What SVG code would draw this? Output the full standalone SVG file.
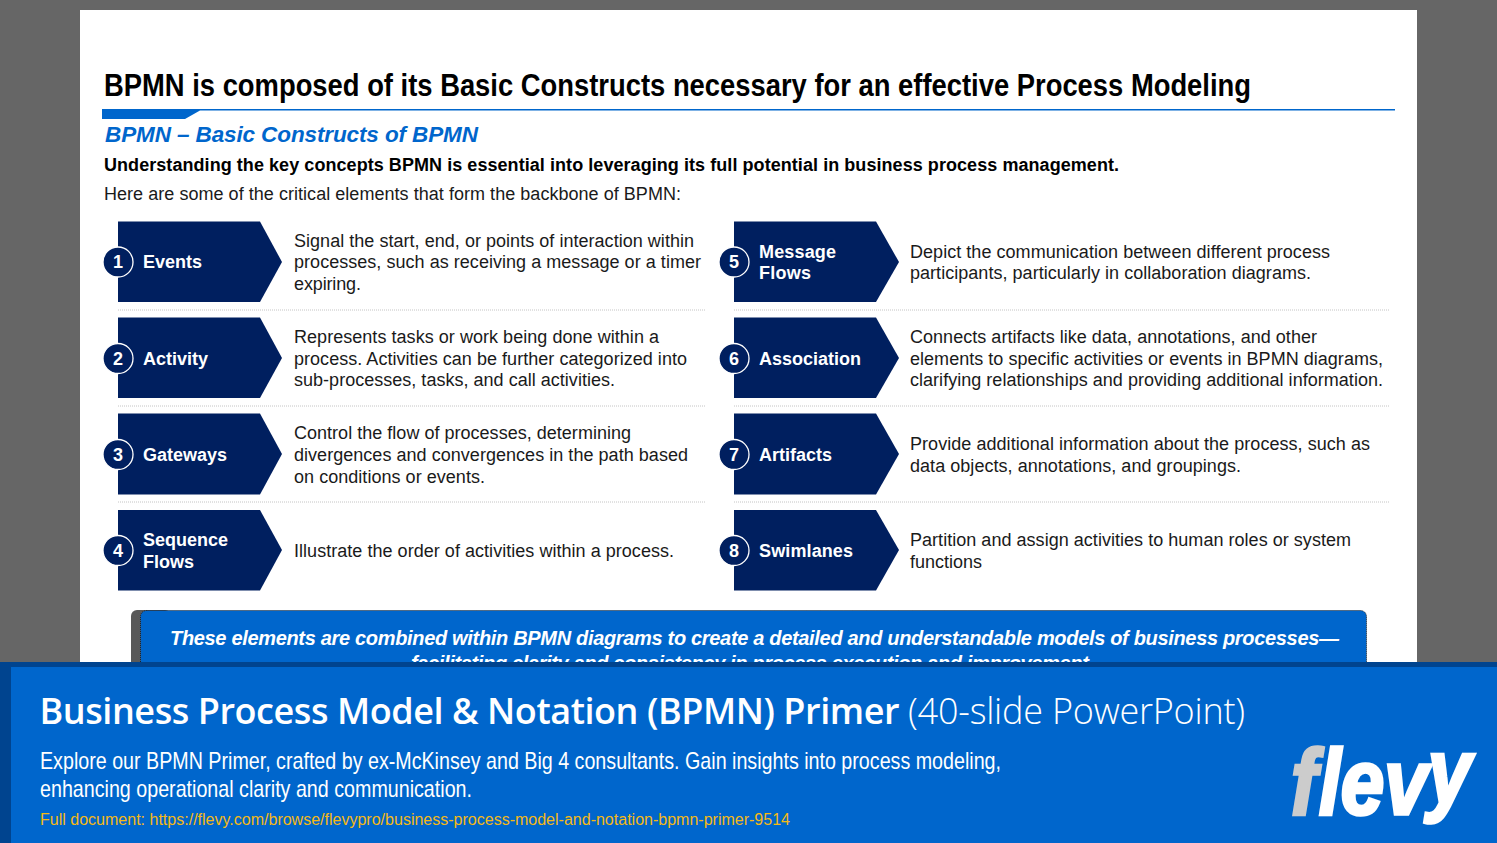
<svg xmlns="http://www.w3.org/2000/svg" width="1497" height="843" viewBox="0 0 1497 843">
<style>
text{font-family:"Liberation Sans",Arial,sans-serif}
.chev{fill:#001f5f}
.dot{fill:#001f5f;stroke:#fff;stroke-width:1.3}
.num{fill:#fff;font-size:18px;font-weight:700;text-anchor:middle}
.lab{fill:#fff;font-size:18px;font-weight:700}
.body{fill:#1a1a1a;font-size:18px}
.sep{stroke:#c4c4c4;stroke-width:1;stroke-dasharray:1 1;fill:none}
.call{fill:#fff;font-size:20px;font-weight:700;font-style:italic}
</style>
<rect width="1497" height="843" fill="#666"/>
<rect x="80" y="10" width="1337" height="660" fill="#fff"/>
<g id="header">
<text x="104" y="96" font-size="32" font-weight="700" fill="#000" textLength="1147" lengthAdjust="spacingAndGlyphs">BPMN is composed of its Basic Constructs necessary for an effective Process Modeling</text>
<path d="M102 109H1395V110.500H200L185 119H102Z" fill="#0066cc"/>
<text x="105" y="141.500" font-size="22.500" font-weight="700" font-style="italic" fill="#0066cc" textLength="373">BPMN – Basic Constructs of BPMN</text>
<text x="104" y="171" font-size="18" font-weight="700" fill="#000" textLength="1015">Understanding the key concepts BPMN is essential into leveraging its full potential in business process management.</text>
<text x="104" y="200" font-size="18" fill="#1a1a1a" textLength="577">Here are some of the critical elements that form the backbone of BPMN:</text>
</g>
<g id="separators">
<path class="sep" d="M118 310H706M118 406H706M118 502H706M734 310H1389M734 406H1389M734 502H1389"/>
</g>
<g id="n1"><path class="chev" d="M118 221.500H260L282 262L260 302H118Z"/><circle class="dot" cx="118" cy="262" r="15"/><text class="num" x="118" y="268">1</text><text class="lab" x="143" y="268" textLength="59">Events</text>
<text class="body"><tspan x="294" y="247" textLength="400">Signal the start, end, or points of interaction within</tspan><tspan x="294" y="268" textLength="407">processes, such as receiving a message or a timer</tspan><tspan x="294" y="290" textLength="67">expiring.</tspan></text></g>
<g id="n2"><path class="chev" d="M118 317.500H260L282 358L260 398H118Z"/><circle class="dot" cx="118" cy="358.500" r="15"/><text class="num" x="118" y="365">2</text><text class="lab" x="143" y="365" textLength="65">Activity</text>
<text class="body"><tspan x="294" y="343" textLength="365">Represents tasks or work being done within a</tspan><tspan x="294" y="365" textLength="393">process. Activities can be further categorized into</tspan><tspan x="294" y="386" textLength="321">sub-processes, tasks, and call activities.</tspan></text></g>
<g id="n3"><path class="chev" d="M118 413.500H260L282 454L260 494.500H118Z"/><circle class="dot" cx="118" cy="454.500" r="15"/><text class="num" x="118" y="461">3</text><text class="lab" x="143" y="461" textLength="84">Gateways</text>
<text class="body"><tspan x="294" y="439" textLength="337">Control the flow of processes, determining</tspan><tspan x="294" y="461" textLength="394">divergences and convergences in the path based</tspan><tspan x="294" y="483" textLength="191">on conditions or events.</tspan></text></g>
<g id="n4"><path class="chev" d="M118 510H260L282 550L260 590.500H118Z"/><circle class="dot" cx="118" cy="550.500" r="15"/><text class="num" x="118" y="557">4</text><text class="lab"><tspan x="143" y="546" textLength="85">Sequence</tspan><tspan x="143" y="568" textLength="51">Flows</tspan></text>
<text class="body" x="294" y="557" textLength="380">Illustrate the order of activities within a process.</text></g>
<g id="n5"><path class="chev" d="M734 221.500H876L899 262L876 302H734Z"/><circle class="dot" cx="734" cy="262" r="15"/><text class="num" x="734" y="268">5</text><text class="lab"><tspan x="759" y="258" textLength="77">Message</tspan><tspan x="759" y="279" textLength="52">Flows</tspan></text>
<text class="body"><tspan x="910" y="258" textLength="420">Depict the communication between different process</tspan><tspan x="910" y="279" textLength="401">participants, particularly in collaboration diagrams.</tspan></text></g>
<g id="n6"><path class="chev" d="M734 317.500H876L899 358L876 398H734Z"/><circle class="dot" cx="734" cy="358.500" r="15"/><text class="num" x="734" y="365">6</text><text class="lab" x="759" y="365" textLength="102">Association</text>
<text class="body"><tspan x="910" y="343" textLength="407">Connects artifacts like data, annotations, and other</tspan><tspan x="910" y="365" textLength="473">elements to specific activities or events in BPMN diagrams,</tspan><tspan x="910" y="386" textLength="473">clarifying relationships and providing additional information.</tspan></text></g>
<g id="n7"><path class="chev" d="M734 413.500H876L899 454L876 494.500H734Z"/><circle class="dot" cx="734" cy="454.500" r="15"/><text class="num" x="734" y="461">7</text><text class="lab" x="759" y="461" textLength="73">Artifacts</text>
<text class="body"><tspan x="910" y="450" textLength="460">Provide additional information about the process, such as</tspan><tspan x="910" y="472" textLength="331">data objects, annotations, and groupings.</tspan></text></g>
<g id="n8"><path class="chev" d="M734 510H876L899 550L876 590.500H734Z"/><circle class="dot" cx="734" cy="550.500" r="15"/><text class="num" x="734" y="557">8</text><text class="lab" x="759" y="557" textLength="94">Swimlanes</text>
<text class="body"><tspan x="910" y="546" textLength="441">Partition and assign activities to human roles or system</tspan><tspan x="910" y="568" textLength="72">functions</tspan></text></g>
<g id="callout">
<rect x="131" y="610" width="40" height="70" rx="6" fill="#595959"/>
<rect x="140.500" y="610.500" width="1226" height="70" rx="6" fill="#0066cc" stroke="#222" stroke-width="1" stroke-dasharray="1 1"/>
<text class="call" x="170" y="645" textLength="1169">These elements are combined within BPMN diagrams to create a detailed and understandable models of business processes—</text>
<text class="call" x="411" y="670" textLength="683">facilitating clarity and consistency in process execution and improvement.</text>
</g>
<g id="footer">
<rect y="662" width="1497" height="181" fill="#00448f"/>
<rect x="11" y="667" width="1486" height="176" fill="#0066cc"/>
<text x="39.500" y="724" font-size="36" fill="#fff" style="font-family:'Open Sans','Noto Sans',sans-serif"><tspan font-weight="600" textLength="860">Business Process Model &amp; Notation (BPMN) Primer</tspan><tspan font-weight="300" dx="9" textLength="337">(40-slide PowerPoint)</tspan></text>
<text fill="#fff" font-size="24"><tspan x="40" y="769" textLength="961" lengthAdjust="spacingAndGlyphs">Explore our BPMN Primer, crafted by ex-McKinsey and Big 4 consultants. Gain insights into process modeling,</tspan><tspan x="40" y="797" textLength="432" lengthAdjust="spacingAndGlyphs">enhancing operational clarity and communication.</tspan></text>
<text x="40" y="825" font-size="16" fill="#f5b915" textLength="750">Full document: https://flevy.com/browse/flevypro/business-process-model-and-notation-bpmn-primer-9514</text>
</g>
<g id="logo">
<text transform="translate(1291 814) scale(.85 1)" font-size="92" font-weight="700" font-style="italic" stroke-width="3.500"><tspan x="0" y="0" fill="#ccc" stroke="#ccc">f</tspan><tspan x="33" y="0" fill="#fff" stroke="#fff">lev</tspan><tspan x="161" y="-10" fill="#fff" stroke="#fff">y</tspan></text>
</g>
</svg>
